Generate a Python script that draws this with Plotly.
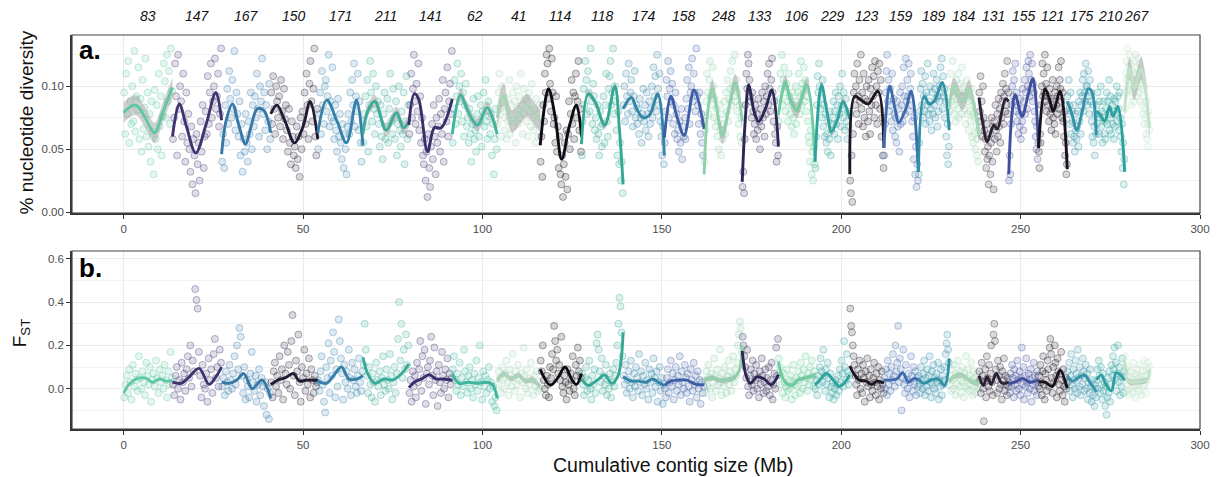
import plotly.graph_objects as go

# ---------------------------------------------------------------- data
contigs = ["83", "147", "167", "150", "171", "211", "141", "62", "41", "114",
           "118", "174", "158", "248", "133", "106", "229", "123", "159", "189",
           "184", "131", "155", "121", "175", "210", "267"]

# contig start positions (cumulative Mb); last contig ends at contig_end
starts = [0, 13.6, 27.3, 41.0, 54.1, 66.7, 79.5, 91.6, 104.1, 116.1, 127.6,
          139.2, 150.7, 161.8, 172.4, 182.5, 192.7, 202.4, 211.9, 221.5,
          230.1, 238.4, 246.7, 255.0, 263.0, 271.1, 279.0]
contig_end = 285.9

colors = ["#60c7a3", "#3f3370", "#3678a8", "#231b33", "#3580aa", "#3aab98",
          "#3a2f6a", "#3fb59d", "#a8d5b8", "#0f0b14", "#35a894", "#3385a7",
          "#3d5ea6", "#8fd1aa", "#2c2654", "#6ccd9e", "#2ea39d", "#1c1622",
          "#3f6aac", "#3090a4", "#a0d8b4", "#2b2335", "#3f4f9d", "#19121e",
          "#3392a8", "#2c9fa0", "#bfe3c8"]

# window values of nucleotide diversity (x 0.001), in window order per contig
pi_points = [
    "95 62 110 78 120 55 88 70 100 72 128 64 92 81 115 58 90 48 105 66 83 122 60 95 52 78 40 88 64 30 97 58 85 50 110 68 92 45 76 118 104 75 125 88 112 70 130 96",
    "58 75 118 92 45 125 82 100 88 60 110 72 40 95 55 78 50 32 68 22 58 45 15 62 38 55 25 72 48 85 35 60 80 62 108 70 95 118 75 88 100 122 82 92 110 68 78 130",
    "40 62 35 85 55 98 70 112 90 75 105 82 128 65 95 78 60 88 45 70 32 58 48 78 55 40 72 62 95 50 85 68 92 75 110 82 60 100 88 122 78 95 65 85 50 72 102 58",
    "95 70 108 82 62 100 88 75 92 68 105 80 58 98 74 85 65 48 82 55 38 72 60 45 52 35 68 42 60 28 75 50 80 62 95 70 110 85 58 102 120 88 72 98 130 60 45 82",
    "50 78 95 62 112 85 70 100 105 80 92 125 68 88 75 115 72 58 85 65 48 90 60 78 55 42 70 35 62 50 30 68 78 62 95 72 105 85 118 68 92 80 110 65 88 55 40 72",
    "55 78 92 68 105 48 85 120 95 72 110 82 62 100 78 88 70 52 85 60 42 78 95 58 68 90 55 82 110 72 62 98 75 58 88 45 70 100 65 52 80 62 95 38 72 108 58 85",
    "62 85 110 75 98 125 88 70 102 80 118 65 92 55 75 45 38 58 25 48 12 62 35 20 52 70 42 85 60 30 75 55 68 90 48 78 62 105 40 82 95 72 115 60 88 102 78 128",
    "55 82 105 70 92 118 78 100 88 110 72 95 60 85 102 68 75 55 82 62 40 70 90 58 65 48 78 92 60 72 85 52 80 95 68 105 72 58 88 76 62 78 45 70 30 58 82 50",
    "70 95 110 82 60 100 88 75 65 80 58 90 72 105 62 85 78 95 68 88 55 100 82 70 92 75 110 85 62 98 78 90 72 88 60 95 80 68 102 75 65 82 55 90 70 60 78 85",
    "40 60 28 85 72 110 95 125 118 90 130 102 80 122 95 70 75 55 92 48 68 35 60 30 22 45 12 38 55 28 65 18 62 88 50 78 105 70 95 58 92 110 75 88 120 65 82 48",
    "45 72 98 85 120 105 78 112 95 80 130 88 70 102 92 65 75 58 85 62 45 80 68 52 70 92 55 85 110 72 60 98 108 120 85 95 130 78 100 88 65 45 80 38 55 25 40 15",
    "85 100 72 110 92 78 118 88 95 105 80 68 92 112 75 85 70 82 62 90 75 55 78 98 72 85 65 95 78 60 88 70 82 100 75 115 92 108 80 125 98 85 110 72 60 45 68 38",
    "55 80 105 92 120 75 98 112 88 102 70 85 62 95 78 58 65 48 72 55 82 42 68 60 75 58 90 105 82 115 70 95 100 122 88 110 95 80 130 92 85 70 95 62 78 55 45 72",
    "40 65 88 110 95 78 105 120 92 85 115 100 75 90 68 82 60 72 50 85 65 45 78 58 70 88 62 95 80 105 72 90 98 112 85 120 100 92 125 88 105 80 95 70 85 60 75 55",
    "20 32 15 58 85 110 98 125 118 105 92 88 75 95 80 62 70 85 58 78 65 90 72 50 82 68 95 75 88 60 100 78 92 110 85 118 98 80 105 122 95 72 88 62 55 40 68 45",
    "72 90 110 98 125 85 105 115 95 80 102 88 72 110 92 78 85 68 95 75 62 88 100 70 82 95 110 78 92 120 85 102 98 115 88 105 80 92 72 60 55 40 65 30 48 25 52 38",
    "35 60 85 108 95 118 100 82 90 75 105 68 85 60 78 55 62 48 72 58 80 45 65 70 75 88 62 80 95 70 85 58 92 78 100 68 85 110 75 95 82 65 90 72 58 80 68 78",
    "25 15 45 8 62 95 110 85 100 78 118 92 70 105 88 125 82 95 68 110 75 90 60 100 88 72 105 80 62 98 85 115 92 108 75 120 85 100 70 112 95 118 82 105 60 75 45 35",
    "45 70 95 112 125 88 105 80 98 85 72 110 65 90 78 60 75 55 88 68 82 48 95 70 85 100 72 115 92 78 122 88 105 92 118 80 98 110 85 72 60 42 75 30 52 20 38 25",
    "30 55 80 98 112 85 102 75 92 80 108 70 95 85 118 78 88 72 100 82 65 95 78 110 85 98 75 90 105 68 92 80 100 88 115 95 122 82 108 92 98 75 88 60 45 70 38 52",
    "80 95 110 88 100 120 92 78 85 98 72 105 90 82 110 75 95 88 102 78 115 92 85 100 82 95 70 90 105 78 88 65 92 80 72 98 60 85 55 78 62 75 50 68 45 58 40 65",
    "95 80 108 72 88 60 100 75 65 48 58 35 70 42 52 22 45 62 30 55 75 40 68 18 72 58 85 65 48 78 60 90 68 82 55 95 75 88 102 70 92 110 80 98 85 120 78 95",
    "25 45 30 70 85 100 112 92 105 88 118 80 95 72 85 62 78 68 90 58 82 72 98 65 88 105 78 95 115 82 100 120 110 92 125 98 105 118 88 102 95 80 72 60 50 68 42 55",
    "48 35 62 55 85 100 118 92 110 95 125 88 102 80 115 92 85 72 98 78 90 65 82 105 75 88 70 95 62 85 100 78 92 115 82 105 98 120 88 75 95 72 60 80 45 55 30 38",
    "92 78 105 85 70 95 62 80 72 55 85 60 48 78 65 58 68 80 52 88 72 95 62 85 92 105 80 110 95 88 118 100 100 85 112 92 78 105 88 95 72 60 85 55 68 45 78 62",
    "85 70 95 78 62 88 75 100 68 80 55 75 88 62 72 58 82 95 70 88 78 105 65 92 75 62 85 70 80 58 90 68 88 78 100 72 92 82 65 95 75 60 48 70 35 55 22 42",
    "82 95 110 120 105 130 98 115 108 125 92 118 100 85 112 95 98 110 88 120 105 125 92 115 110 100 122 95 118 105 88 112 98 85 105 78 92 70 100 82 75 62 88 58 70 52 80 65",
]

# window values of F_ST (x 0.001), in window order per contig
fst_points = [
    "-40 20 60 -20 90 30 -50 110 10 70 40 -10 150 50 0 80 30 -30 120 60 20 100 -60 40 70 10 130 50 -20 90 30 60 0 110 40 -40 80 20 170 50",
    "20 -30 60 100 0 40 -50 120 30 70 -10 90 150 50 200 10 130 80 460 410 370 170 60 -40 110 20 0 70 -60 140 40 90 -20 160 230 50 100 10 180 120",
    "10 50 -30 80 30 -10 110 40 0 70 150 20 200 90 280 240 60 -20 100 -50 40 10 -40 70 170 30 -10 60 -60 20 90 -30 50 10 -80 30 -120 0 -140 -20",
    "30 -40 80 120 10 60 -20 150 40 90 -50 200 70 20 170 110 0 220 340 60 -30 130 80 250 30 -60 100 50 180 -10 70 20 140 -40 90 40 -20 60 10 30",
    "40 -10 80 150 20 -60 -110 100 50 210 -20 130 60 260 170 -40 90 10 320 220 140 70 -50 110 30 80 0 180 50 -30 120 40 90 10 -20 60 140 30 -10 80",
    "110 300 180 60 -20 100 20 -40 70 30 -60 120 40 10 80 -30 50 150 20 -10 90 40 0 160 60 -50 30 100 -20 70 230 400 130 300 50 180 90 250 110 200",
    "-20 40 -60 80 10 60 -40 120 30 90 220 -10 150 50 180 -70 70 100 20 130 240 60 -30 190 40 80 -80 110 30 -20 170 60 0 90 40 140 -40 70 20 50",
    "90 150 40 -10 70 20 120 -30 50 10 180 80 30 -20 60 100 0 40 -40 70 20 130 -10 50 200 30 -50 80 10 60 -20 40 100 0 30 -60 10 -80 -40 -100",
    "20 80 50 -20 100 40 0 70 130 30 -30 90 60 10 160 50 -10 80 20 110 40 -40 70 30 190 60 0 90 -20 50 20 120 40 -30 60 10 80 -10 30 0",
    "130 80 200 40 0 -30 60 20 -40 100 50 160 90 290 220 130 180 70 110 40 240 10 -20 60 30 -50 90 20 -10 70 40 150 0 -30 110 60 190 80 130 50",
    "70 20 -30 50 100 -10 40 130 0 -50 60 20 90 -20 210 250 180 80 30 140 -10 60 20 110 -30 40 0 70 -40 30 90 10 60 120 200 300 420 380 260 150",
    "60 20 110 -20 40 80 0 130 30 -40 70 10 100 50 -10 160 30 80 -30 60 20 120 0 40 -50 90 30 70 -20 140 50 10 80 -60 30 100 -10 50 -70 20",
    "0 -40 50 90 -20 30 130 10 70 -50 40 100 -10 60 20 150 -30 80 30 0 110 50 -20 70 10 -60 90 40 -10 120 20 60 -40 80 0 40 -70 30 -20 10",
    "40 -20 80 10 110 50 0 70 -40 30 140 60 -10 90 20 50 180 30 -30 70 10 100 40 -20 60 130 20 80 -10 50 150 30 90 60 120 200 250 310 280 170",
    "240 200 150 100 50 180 10 -30 60 90 20 130 -10 70 40 110 0 50 -40 80 20 140 60 -20 30 90 -10 50 10 100 -30 40 120 -50 20 70 0 190 60 230",
    "140 100 60 20 -20 70 30 -40 10 90 -10 40 0 60 -50 30 110 20 -30 50 10 80 40 -20 120 60 0 90 30 150 50 -10 70 20 100 40 130 60 10 80",
    "0 40 -30 60 20 100 140 80 30 180 60 -10 90 20 120 50 -40 70 10 -20 30 -50 0 40 -30 20 60 -10 90 30 130 70 10 220 100 40 160 80 20 60",
    "370 290 260 200 150 110 60 20 -30 90 40 130 0 70 -20 110 50 -60 80 30 140 10 60 -40 90 20 -10 50 120 30 -30 70 10 100 -50 40 0 80 20 -20",
    "50 0 90 -30 130 20 70 -10 100 40 160 60 10 200 80 120 290 30 140 90 -100 50 180 20 -20 110 40 0 70 -40 30 150 60 -10 100 20 80 -30 50 10",
    "60 20 -20 100 40 0 70 130 -30 50 10 90 -10 60 150 30 -40 80 20 110 0 50 -20 70 30 120 -50 40 10 90 -30 60 20 100 40 160 210 250 180 120",
    "20 60 -10 90 40 0 110 50 -30 70 20 130 60 10 80 -20 40 100 30 -40 70 10 150 50 0 90 -10 60 20 120 40 -30 80 10 50 -20 30 70 0 20",
    "80 40 -20 120 60 0 -150 30 90 -40 150 50 10 110 -10 70 200 30 -30 250 300 220 90 40 -20 130 60 0 100 20 -50 80 40 140 -10 60 20 -30 50 10",
    "30 -20 70 10 110 50 -40 90 20 60 -10 130 40 0 80 -30 50 190 20 100 -50 60 10 140 30 -20 70 40 0 90 -60 50 20 120 -10 60 30 -30 80 10",
    "60 0 110 30 -30 80 150 20 -50 70 40 -10 130 90 10 190 230 160 50 -20 100 30 200 120 60 -40 140 80 20 -10 70 170 40 -30 90 10 -60 50 0 30",
    "80 30 120 -10 60 160 20 -40 90 40 0 130 70 -20 180 50 10 100 -30 60 20 140 80 -10 50 110 0 70 -50 30 -20 90 10 -60 40 -30 20 -80 0 -40",
    "40 90 0 130 60 -20 100 20 -50 70 -10 30 -80 10 -120 -40 50 -20 80 -60 20 110 60 150 90 190 40 120 -10 70 200 30 100 -30 60 10 140 50 -20 80",
    "150 90 40 -10 60 20 100 -30 50 0 80 30 -20 120 40 10 70 -40 60 20 90 0 50 -10 110 30 60 -30 40 80 10 130 20 60 -20 90 40 120 70 100",
]

# loess trend of nucleotide diversity per contig (Mb, value)
pi_smooth_x = [
    [0, 1.5, 3.5, 6, 8.6, 11, 13.6],
    [13.6, 15.5, 17.5, 20.1, 23, 25.7, 27.3],
    [27.3, 28.5, 30.3, 32, 34.0, 35.5, 37.2, 39, 41.0],
    [41.0, 42.7, 45, 47.6, 50, 52, 54.1],
    [54.1, 56.6, 59.5, 62.1, 64.9, 66.7],
    [66.7, 68, 70, 73.2, 76, 78, 79.5],
    [79.5, 81, 82.2, 84.7, 86.6, 88.5, 91.6],
    [91.6, 93.9, 96, 98.6, 101.3, 104.1],
    [104.1, 105.9, 108.2, 110.5, 112.4, 114.5, 116.1],
    [116.1, 118.4, 120.3, 122.1, 124.2, 126.2, 127.6],
    [127.6, 129.5, 131.5, 134.1, 136.9, 138.2, 139.2],
    [139.2, 141.5, 143, 144.7, 146.5, 148.9, 150.7],
    [150.7, 152.5, 154.3, 156.2, 159, 161.8],
    [161.8, 162.8, 164.1, 166.9, 168.5, 170.5, 172.4],
    [172.4, 173.3, 174.2, 175.7, 177, 179, 180.7, 182.5],
    [182.5, 184.4, 186, 187.6, 190.4, 192.7],
    [192.7, 194.5, 196, 197.3, 199, 200.5, 202.4],
    [202.4, 203.8, 205.5, 207.5, 210.2, 211.9],
    [211.9, 213.5, 215, 216, 218, 219.5, 221.5],
    [221.5, 223.1, 224.5, 225.9, 228.2, 230.1],
    [230.1, 231.4, 233.8, 235.6, 237, 238.4],
    [238.4, 239.5, 240.7, 242.5, 243.5, 245.8, 246.7],
    [246.7, 247.5, 248.5, 250.4, 252, 253.4, 255],
    [255, 256.8, 258, 259.1, 261, 263],
    [263, 264.3, 265.6, 267.2, 268.8, 269.8, 271.1],
    [271.1, 272, 273.4, 274.8, 275.8, 277.1, 279],
    [279, 280.4, 281.7, 283.6, 285.9],
]
pi_smooth_y = [
    [0.079, 0.083, 0.085, 0.075, 0.063, 0.080, 0.099],
    [0.060, 0.086, 0.068, 0.047, 0.070, 0.095, 0.073],
    [0.046, 0.072, 0.086, 0.070, 0.054, 0.068, 0.082, 0.081, 0.063],
    [0.078, 0.085, 0.072, 0.055, 0.068, 0.088, 0.058],
    [0.063, 0.089, 0.072, 0.055, 0.089, 0.053],
    [0.062, 0.080, 0.088, 0.065, 0.079, 0.067, 0.072],
    [0.069, 0.094, 0.090, 0.048, 0.067, 0.067, 0.090],
    [0.062, 0.093, 0.080, 0.069, 0.083, 0.062],
    [0.075, 0.093, 0.072, 0.079, 0.085, 0.078, 0.072],
    [0.053, 0.098, 0.075, 0.042, 0.068, 0.085, 0.060],
    [0.054, 0.094, 0.087, 0.069, 0.100, 0.065, 0.022],
    [0.082, 0.091, 0.082, 0.075, 0.077, 0.094, 0.045],
    [0.059, 0.092, 0.075, 0.061, 0.097, 0.066],
    [0.030, 0.080, 0.098, 0.061, 0.080, 0.103, 0.072],
    [0.024, 0.075, 0.101, 0.080, 0.072, 0.083, 0.097, 0.052],
    [0.077, 0.103, 0.088, 0.081, 0.101, 0.040],
    [0.040, 0.101, 0.080, 0.064, 0.074, 0.088, 0.074],
    [0.030, 0.092, 0.089, 0.086, 0.096, 0.051],
    [0.051, 0.100, 0.082, 0.071, 0.082, 0.096, 0.032],
    [0.032, 0.092, 0.086, 0.088, 0.103, 0.065],
    [0.082, 0.100, 0.088, 0.098, 0.085, 0.061],
    [0.091, 0.070, 0.056, 0.069, 0.066, 0.090, 0.088],
    [0.030, 0.075, 0.093, 0.076, 0.092, 0.106, 0.051],
    [0.051, 0.098, 0.090, 0.080, 0.096, 0.034],
    [0.088, 0.078, 0.065, 0.080, 0.098, 0.096, 0.061],
    [0.080, 0.078, 0.072, 0.084, 0.076, 0.084, 0.032],
    [0.080, 0.114, 0.098, 0.114, 0.067],
]
# standard-error half width of the diversity trend
pi_se = [0.008, 0, 0, 0, 0, 0.005, 0, 0.005, 0.009, 0, 0.003, 0, 0, 0.007,
         0, 0.006, 0.003, 0, 0, 0, 0.007, 0, 0, 0, 0, 0, 0.009]

# loess trend of F_ST per contig (Mb, value)
fst_smooth_x = [
    [0, 1.5, 3.5, 6, 8, 10, 12, 13.6],
    [13.6, 16, 18, 21, 23.8, 25.5, 27.3],
    [27.3, 29.5, 31.5, 33.5, 35.8, 38.6, 41.0],
    [41.0, 43, 45, 47.3, 49, 51, 54.1],
    [54.1, 56.5, 58.5, 60.7, 62.8, 65, 66.7],
    [66.7, 68, 70, 72.5, 75, 77.5, 79.5],
    [79.5, 81, 83, 85.2, 87, 89, 91.6],
    [91.6, 93.5, 96, 98.5, 101, 102.8, 104.1],
    [104.1, 106, 108, 110, 112, 114, 116.1],
    [116.1, 118.9, 121, 123, 125, 126.2, 127.6],
    [127.6, 129.5, 132, 134.1, 136, 137.8, 139.2],
    [139.2, 141.5, 143.5, 145.5, 147.5, 149, 150.7],
    [150.7, 152.5, 155, 157, 159.5, 161.8],
    [161.8, 164, 166, 168, 170, 171.5, 172.4],
    [172.4, 173.5, 174.7, 176.5, 178.5, 180.5, 182.5],
    [182.5, 184, 186, 188, 190, 192.7],
    [192.7, 194.3, 195.9, 197.8, 199.6, 202.4],
    [202.4, 203.5, 205, 207, 208.5, 210, 211.9],
    [211.9, 213.5, 215.5, 217.1, 218.8, 220.3, 221.5],
    [221.5, 223, 225, 227, 228.8, 230.1],
    [230.1, 232, 234, 236, 238.4],
    [238.4, 239.6, 240.7, 241.8, 243.2, 244.8, 246.7],
    [246.7, 248.5, 250.5, 252.5, 255],
    [255, 256.8, 258.8, 259.8, 261, 263],
    [263, 264.5, 266, 267.8, 269.3, 271.1],
    [271.1, 272.5, 273.8, 275.3, 276.7, 279],
    [279, 280, 282, 284, 285.3, 285.9],
]
fst_smooth_y = [
    [-0.02, 0.02, 0.045, 0.05, 0.03, 0.045, 0.035, 0.04],
    [0.03, 0.025, 0.05, 0.094, 0.02, 0.05, 0.10],
    [0.03, 0.025, 0.04, 0.07, 0.0, 0.04, -0.045],
    [0.02, 0.04, 0.05, 0.07, 0.035, 0.04, 0.038],
    [0.035, 0.025, 0.06, 0.10, 0.045, 0.045, 0.06],
    [0.145, 0.07, 0.025, 0.045, 0.04, 0.07, 0.115],
    [0.005, 0.03, 0.045, 0.065, 0.045, 0.045, 0.04],
    [0.07, 0.025, 0.03, 0.025, 0.03, 0.02, -0.045],
    [0.04, 0.07, 0.045, 0.063, 0.035, 0.04, 0.01],
    [0.09, 0.017, 0.05, 0.10, 0.04, 0.02, 0.07],
    [0.045, 0.015, 0.04, 0.063, 0.025, 0.06, 0.26],
    [0.055, 0.035, 0.035, 0.03, 0.045, 0.03, 0.015],
    [0.015, 0.035, 0.04, 0.04, 0.02, 0.018],
    [0.04, 0.05, 0.04, 0.04, 0.05, 0.08, 0.20],
    [0.175, 0.06, 0.025, 0.055, 0.045, 0.018, 0.065],
    [0.125, 0.04, 0.015, 0.04, 0.05, 0.063],
    [0.017, 0.045, 0.07, 0.04, 0.01, 0.063],
    [0.105, 0.07, 0.04, 0.035, 0.02, 0.035, 0.025],
    [0.04, 0.04, 0.045, 0.074, 0.03, 0.048, 0.04],
    [0.045, 0.025, 0.04, 0.045, 0.015, 0.14],
    [0.035, 0.06, 0.06, 0.035, 0.025],
    [0.06, 0.015, 0.055, 0.02, 0.07, 0.025, 0.03],
    [0.025, 0.03, 0.048, 0.03, 0.04],
    [0.032, 0.03, 0.01, 0.04, 0.086, 0.003],
    [0.06, 0.035, 0.05, 0.063, 0.03, -0.014],
    [0.04, 0.063, 0.02, -0.01, 0.074, 0.04],
    [0.13, 0.035, 0.03, 0.035, 0.04, 0.09],
]
fst_se = [0, 0, 0, 0, 0, 0, 0, 0, 0.012, 0, 0, 0, 0, 0.012, 0, 0.01, 0, 0,
          0, 0, 0.012, 0, 0, 0, 0, 0, 0.012]

# ---------------------------------------------------------------- helpers
FONT = "Liberation Sans, Arial, Helvetica, sans-serif"


def rgba(hex_color, a):
    h = hex_color.lstrip("#")
    r, g, b = int(h[0:2], 16), int(h[2:4], 16), int(h[4:6], 16)
    return f"rgba({r},{g},{b},{a})"


ends = starts[1:] + [contig_end]
fig = go.Figure()


def add_points(values, scale, xa, ya):
    for i, s in enumerate(values):
        vals = [int(v) / scale for v in s.split()]
        n = len(vals)
        step = (ends[i] - starts[i]) / n
        xs = [starts[i] + (k + 0.5) * step for k in range(n)]
        fig.add_trace(go.Scatter(
            x=xs, y=vals, mode="markers", xaxis=xa, yaxis=ya,
            marker=dict(size=7, color=rgba(colors[i], 0.17),
                        line=dict(color=rgba(colors[i], 0.4), width=0.9)),
            hoverinfo="skip", showlegend=False))


def add_trends(xs_list, ys_list, se_list, xa, ya):
    for i in range(len(xs_list)):
        xs, ys, se = xs_list[i], ys_list[i], se_list[i]
        if se > 0:
            fig.add_trace(go.Scatter(
                x=xs, y=[v + se for v in ys], mode="lines", xaxis=xa, yaxis=ya,
                line=dict(width=0, shape="spline", smoothing=1.0),
                hoverinfo="skip", showlegend=False))
            fig.add_trace(go.Scatter(
                x=xs, y=[v - se for v in ys], mode="lines", xaxis=xa, yaxis=ya,
                line=dict(width=0, shape="spline", smoothing=1.0),
                fill="tonexty", fillcolor="rgba(150,150,150,0.45)",
                hoverinfo="skip", showlegend=False))
        fig.add_trace(go.Scatter(
            x=xs, y=ys, mode="lines", xaxis=xa, yaxis=ya,
            line=dict(color=colors[i], width=2.9, shape="spline", smoothing=1.0),
            hoverinfo="skip", showlegend=False))


add_points(pi_points, 1000.0, "x", "y")
add_points(fst_points, 1000.0, "x2", "y2")
add_trends(pi_smooth_x, pi_smooth_y, pi_se, "x", "y")
add_trends(fst_smooth_x, fst_smooth_y, fst_se, "x2", "y2")

# ---------------------------------------------------------------- layout
tickfont = dict(family=FONT, size=11.5, color="#4d4d4d")
xcommon = dict(range=[-14.4, 300], dtick=50, tick0=0, showgrid=True,
               gridcolor="#ebebeb", gridwidth=1, zeroline=False,
               ticks="outside", ticklen=4, tickcolor="#333333", tickwidth=1,
               tickfont=tickfont, showline=True, linecolor="#333333",
               linewidth=1.6, domain=[0, 1])

fig.update_layout(
    width=1222, height=477,
    margin=dict(l=72, r=15, t=35, b=48),
    paper_bgcolor="white", plot_bgcolor="white",
    font=dict(family=FONT),
    xaxis=dict(anchor="y", **xcommon),
    xaxis2=dict(anchor="y2", matches="x", **xcommon),
    yaxis=dict(domain=[0.548, 1], anchor="x", range=[-0.0008, 0.1407],
               tickvals=[0, 0.05, 0.10], ticktext=["0.00", "0.05", "0.10"],
               showgrid=True, gridcolor="#ebebeb", zeroline=False,
               minor=dict(tickvals=[0.025, 0.075, 0.125], showgrid=True,
                          gridcolor="#f2f2f2", gridwidth=0.8, ticks=""),
               ticks="outside", ticklen=4, tickcolor="#333333",
               tickfont=tickfont, showline=True, linecolor="#333333",
               linewidth=1.6),
    yaxis2=dict(domain=[0, 0.4518], anchor="x2", range=[-0.186, 0.636],
                tickvals=[0, 0.2, 0.4, 0.6],
                ticktext=["0.0", "0.2", "0.4", "0.6"],
                showgrid=True, gridcolor="#ebebeb", zeroline=False,
                minor=dict(tickvals=[-0.1, 0.1, 0.3, 0.5], showgrid=True,
                           gridcolor="#f2f2f2", gridwidth=0.8, ticks=""),
                ticks="outside", ticklen=4, tickcolor="#333333",
                tickfont=tickfont, showline=True, linecolor="#333333",
                linewidth=1.6),
)

# panel borders
for xr, yr in (("x domain", "y domain"), ("x2 domain", "y2 domain")):
    fig.add_shape(type="rect", xref=xr, yref=yr, x0=0, x1=1, y0=0, y1=1,
                  line=dict(color="#444444", width=1.2), layer="above")

annotations = []
# contig names along the top
for i, name in enumerate(contigs):
    annotations.append(dict(
        x=(starts[i] + ends[i]) / 2, y=1.048, xref="x", yref="paper",
        text=f"<i>{name}</i>", showarrow=False, xanchor="center",
        yanchor="middle", font=dict(family=FONT, size=14, color="#111111")))

annotations += [
    dict(x=0.004, y=0.915, xref="x domain", yref="y domain", text="<b>a.</b>",
         showarrow=False, xanchor="left", yanchor="middle",
         font=dict(family=FONT, size=26, color="black")),
    dict(x=0.004, y=0.905, xref="x2 domain", yref="y2 domain", text="<b>b.</b>",
         showarrow=False, xanchor="left", yanchor="middle",
         font=dict(family=FONT, size=26, color="black")),
    dict(x=-0.0405, y=0.779, xref="paper", yref="paper",
         text="% nucleotide diversity", textangle=-90, showarrow=False,
         xanchor="center", yanchor="middle",
         font=dict(family=FONT, size=19, color="#111111")),
    dict(x=-0.0449, y=0.2437, xref="paper", yref="paper",
         text="F<sub>ST</sub>", textangle=-90, showarrow=False,
         xanchor="center", yanchor="middle",
         font=dict(family=FONT, size=19, color="#111111")),
    dict(x=0.533, y=-0.0914, xref="paper", yref="paper",
         text="Cumulative contig size (Mb)", showarrow=False,
         xanchor="center", yanchor="middle",
         font=dict(family=FONT, size=19.5, color="#111111")),
]
fig.update_layout(annotations=annotations)

fig.write_html("out.html")
